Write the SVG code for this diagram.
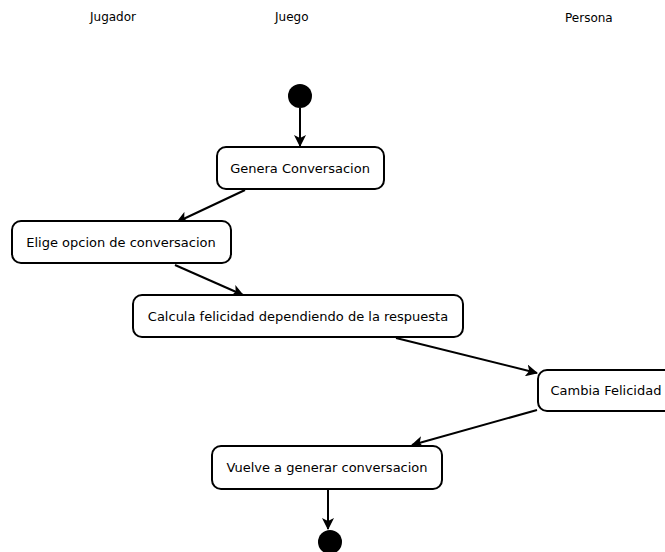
<svg xmlns="http://www.w3.org/2000/svg" width="665" height="552" viewBox="0 0 665 552">
<style>
.lane{font-family:"DejaVu Sans","Liberation Sans",sans-serif;font-size:12px;fill:#000}
.box rect{fill:#fff;stroke:#000;stroke-width:2}
.box text{font-family:"DejaVu Sans","Liberation Sans",sans-serif;font-size:13px;fill:#000;text-anchor:middle}
.conn line{stroke:#000;stroke-width:2;marker-end:url(#ah)}
</style>
<defs>
<marker id="ah" viewBox="0 0 12 12" refX="11" refY="6" markerWidth="12" markerHeight="12" markerUnits="userSpaceOnUse" orient="auto">
<path d="M0,0 L12,6 L0,12 L3,6 z" fill="#000"/>
</marker>
</defs>
<rect width="665" height="552" fill="#fff"/>
<text class="lane" x="90" y="21">Jugador</text>
<text class="lane" x="275" y="21">Juego</text>
<text class="lane" x="565" y="22">Persona</text>
<g class="conn">
<line x1="300" y1="108" x2="300" y2="146"/>
<line x1="245" y1="190" x2="177" y2="222"/>
<line x1="175" y1="265" x2="243" y2="295"/>
<line x1="396" y1="338" x2="537" y2="373"/>
<line x1="537" y1="410" x2="412" y2="445"/>
<line x1="328" y1="490" x2="328" y2="529"/>
</g>
<g id="start"><circle cx="300" cy="96" r="12" fill="#000"/></g>
<g id="genera" class="box"><rect x="217" y="147" width="167" height="42" rx="9"/><text x="300" y="173">Genera Conversacion</text></g>
<g id="elige" class="box"><rect x="12" y="221" width="219" height="42" rx="9"/><text x="121" y="247">Elige opcion de conversacion</text></g>
<g id="calcula" class="box"><rect x="133" y="295" width="330" height="42" rx="9"/><text x="298" y="321">Calcula felicidad dependiendo de la respuesta</text></g>
<g id="cambia" class="box"><rect x="538" y="370" width="140" height="41" rx="9"/><text x="606" y="395">Cambia Felicidad</text></g>
<g id="vuelve" class="box"><rect x="212" y="446" width="230" height="43" rx="9"/><text x="327" y="472">Vuelve a generar conversacion</text></g>
<g id="end"><circle cx="330" cy="542" r="12" fill="#000"/></g>
</svg>
